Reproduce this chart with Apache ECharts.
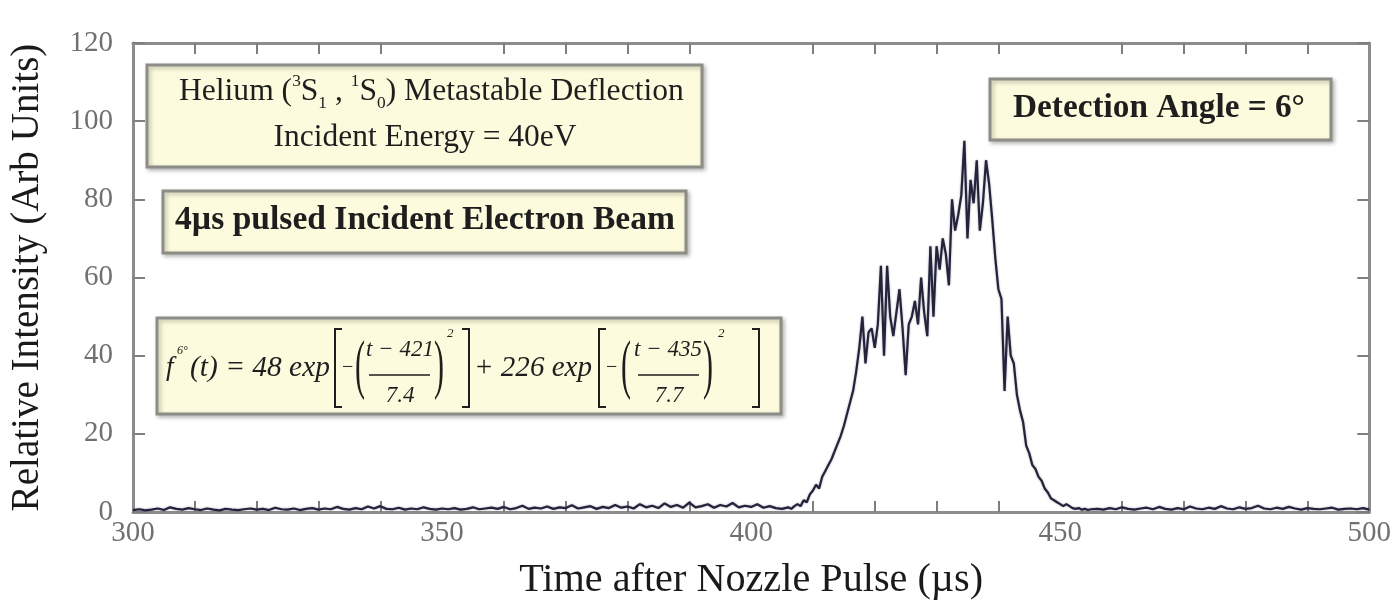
<!DOCTYPE html>
<html><head><meta charset="utf-8">
<script src="https://cdn.jsdelivr.net/npm/echarts@6/dist/echarts.min.js"></script>
<style>html,body{margin:0;padding:0;background:#fff}#c{width:1394px;height:605px}</style>
</head><body><div id="c"></div>
<script>
// ---- data ----
const baseTimes = [300,301,302,303,304,305,306,307,308,309,310,311,312,313,314,315,316,317,318,319,320,321,322,323,324,325,326,327,328,329,330,331,332,333,334,335,336,337,338,339,340,341,342,343,344,345,346,347,348,349,350,351,352,353,354,355,356,357,358,359,360,361,362,363,364,365,366,367,368,369,370,371,372,373,374,375,376,377,378,379,380,381,382,383,384,385,386,387,388,389,390,391,392,393,394,395,396,397,398,399,400,401,402,403,404];
const baseIntensity = [0.5,0.7,0.4,0.6,0.9,0.5,1.2,0.8,0.6,1.0,0.7,0.5,0.9,0.6,0.4,0.8,0.6,0.5,0.7,0.9,0.6,0.8,0.5,1.1,0.7,0.6,0.9,0.5,0.8,1.0,0.6,0.9,0.7,1.3,0.8,0.6,1.0,0.7,1.4,0.9,1.5,0.8,0.7,1.1,0.6,0.9,0.7,1.2,0.8,0.6,0.9,0.7,1.0,0.6,0.8,1.2,0.7,0.9,1.1,0.8,1.3,0.7,1.0,1.6,0.8,1.1,0.9,1.4,0.8,1.2,1.0,1.7,0.9,1.2,1.5,0.8,1.3,1.0,1.8,1.1,1.4,0.9,2.0,1.2,1.6,1.0,2.2,1.3,1.8,1.1,2.4,1.2,1.5,2.0,1.1,1.8,1.4,2.3,1.2,1.6,1.3,2.0,1.1,1.5,1.0];
const peakTimes = [405,405.5,406,406.5,407,407.5,408,408.5,409,409.5,410,410.5,411,411.5,412,412.5,413,413.5,414,414.5,415,415.5,416,416.5,417,417.5,418,418.5,419,419.5,420,420.5,421,421.5,422,422.5,423,423.5,424,424.5,425,425.5,426,426.5,427,427.5,428,428.5,429,429.5,430,430.5,431,431.5,432,432.5,433,433.5,434,434.5,435,435.5,436,436.5,437,437.5,438,438.5,439,439.5,440,440.5,441,441.5,442,442.5,443,443.5,444,444.5,445,445.5,446,446.5,447,447.5,448,448.5,449,449.5,450,450.5,451,451.5,452,452.5,453,453.5,454,454.5,455];
const peakIntensity = [0.8,1.0,1.2,0.8,1.5,2.0,1.5,3.0,2.5,4.5,5.5,7.0,6.0,9.0,10.5,12.0,13.5,15.5,17.5,19.5,22.0,25.0,28.0,31.0,36.0,42.0,50.0,38.0,46.0,47.0,42.0,48.0,63.0,40.0,63.0,50.0,45.0,51.0,57.0,47.0,35.0,48.0,50.0,54.0,48.0,60.0,51.0,45.0,68.0,50.0,68.0,62.0,70.0,66.0,58.0,80.0,72.0,76.0,81.0,95.0,70.0,85.0,79.0,90.0,72.0,79.0,90.0,84.0,75.0,65.0,57.0,54.5,31.0,50.0,40.0,38.0,30.0,26.0,23.0,17.0,15.0,12.0,11.0,9.0,8.0,6.0,5.0,3.5,3.0,2.5,2.0,1.5,2.0,1.5,1.0,0.8,1.0,0.6,0.8,0.5,0.7];
const tailTimes = [456,457,458,459,460,461,462,463,464,465,466,467,468,469,470,471,472,473,474,475,476,477,478,479,480,481,482,483,484,485,486,487,488,489,490,491,492,493,494,495,496,497,498,499,500];
const tailIntensity = [0.8,0.6,1.0,0.7,1.2,0.8,0.6,0.9,1.1,0.7,1.3,0.8,0.6,1.0,0.7,1.4,0.9,0.7,1.1,0.8,1.5,0.9,0.7,1.2,0.8,1.0,1.6,0.9,0.7,1.1,0.8,1.3,0.9,0.6,1.0,0.8,0.7,0.9,1.1,0.6,0.8,0.9,0.7,1.0,0.6];
const xTicks = [300,350,400,450,500];
const minorTickTimes = [300,310,320,330,340,350,360,370,380,390,400,410,420,430,440,450,460,470,480,490,500];
const yTicks = [0,20,40,60,80,100,120];
const xTitle = 'Time after Nozzle Pulse (\u00b5s)';
const yTitle = 'Relative Intensity (Arb Units)';
const box1Line1 = ['Helium (', '3', 'S', '1', ' , ', '1', 'S', '0', ') Metastable Deflection'];
const box1Line2 = 'Incident Energy = 40eV';
const box2Text = '4\u00b5s pulsed Incident Electron Beam';
const box3Text = 'Detection Angle = 6\u00b0';

// ---- build ----
const times = baseTimes.concat(peakTimes, tailTimes);
const intensity = baseIntensity.concat(peakIntensity, tailIntensity);
const seriesData = times.map((t, i) => [t, intensity[i]]);

const SERIF = '"Liberation Serif","Times New Roman",serif';
const mctx = document.createElement('canvas').getContext('2d');
function fontStr(size, weight, style) { return (style||'normal') + ' ' + (weight||'normal') + ' ' + size + 'px ' + SERIF; }
function measure(t, size, weight, style) { mctx.font = fontStr(size, weight, style); return mctx.measureText(t).width; }
function fitSize(t, target, weight, style) { return 30 * target / measure(t, 30, weight, style); }

const INK = '#1e1e1e';
const g = [];
function box(x1, y1, x2, y2) {
  g.push({type:'rect', shape:{x:x1, y:y1, width:x2-x1, height:y2-y1}, z:10,
    style:{fill:'#fcfbdd', stroke:'#8d8d88', lineWidth:3, shadowBlur:4, shadowColor:'rgba(0,0,0,0.25)', shadowOffsetX:2, shadowOffsetY:2}});
}
function txt(t, x, y, size, opt) {
  opt = opt || {};
  const el = {type:'text', z:11, x:x, y:y, style:{text:t, x:0, y:0, font:fontStr(size, opt.weight, opt.style), fill:opt.fill||INK,
    align:opt.align||'left', verticalAlign:opt.va||'middle', textAlign:opt.align||'left', textVerticalAlign:opt.va||'middle'}};
  if (opt.scaleY) el.scaleY = opt.scaleY;
  if (opt.scaleX) el.scaleX = opt.scaleX;
  g.push(el);
}
function line(pts, w) {
  g.push({type:'polyline', z:11, shape:{points:pts}, style:{stroke:INK, lineWidth:w||2, fill:null}});
}

// Box 1
box(147, 65, 702, 167);
(function(){
  const y = 92;
  const rel = [1, 0.55, 1, 0.55, 1, 0.55, 1, 0.55, 1];
  const dys = [0, -8, 0, 9, 0, -8, 0, 9, 0];
  let tot = 0;
  box1Line1.forEach((t, i) => { tot += measure(t, 30 * rel[i]); });
  const size = 30 * 505 / tot;
  let x = 179;
  box1Line1.forEach((t, i) => { const s = size * rel[i]; txt(t, x, y + dys[i] * size / 24, s); x += measure(t, s); });
  txt(box1Line2, 425, 138, fitSize(box1Line2, 303), {align:'center'});
})();
// Box 2
box(163, 191, 686, 253);
txt(box2Text, 425, 220, fitSize(box2Text, 500, 'bold'), {align:'center', weight:'bold'});
// Box 3
box(990, 79, 1331, 140);
txt(box3Text, 1159, 108, fitSize(box3Text, 292, 'bold'), {align:'center', weight:'bold'});
// Formula box
box(157, 318, 781, 414);
(function(){
  const fs = 23, ym = 368, yn = 350, yd = 396;
  txt('f', 166, ym, 27, {style:'italic'});
  txt('6\u00b0', 177, ym - 17, 12, {style:'italic'});
  txt('(t) = 48 exp', 190, ym, fitSize('(t) = 48 exp', 140, 'normal', 'italic'), {style:'italic'});
  // first bracket term
  line([[342,329],[335,329],[335,407],[342,407]], 2);
  txt('\u2212', 342, ym, 20);
  txt('(', 360, ym + 1, 30, {align:'center', scaleY:2.2});
  txt('t \u2212 421', 400, yn, fs, {style:'italic', align:'center'});
  line([[369,375],[430,375]], 1.5);
  txt('7.4', 400, yd, fs, {style:'italic', align:'center'});
  txt(')', 439, ym + 1, 30, {align:'center', scaleY:2.2});
  txt('2', 447, 334, 13, {style:'italic'});
  line([[462,329],[469,329],[469,407],[462,407]], 2);
  txt('+ 226 exp', 474, ym, fitSize('+ 226 exp', 118, 'normal', 'italic'), {style:'italic'});
  line([[606,329],[599,329],[599,407],[606,407]], 2);
  txt('\u2212', 606, ym, 20);
  txt('(', 626, ym + 1, 30, {align:'center', scaleY:2.2});
  txt('t \u2212 435', 668, yn, fs, {style:'italic', align:'center'});
  line([[638,375],[699,375]], 1.5);
  txt('7.7', 669, yd, fs, {style:'italic', align:'center'});
  txt(')', 708, ym + 1, 30, {align:'center', scaleY:2.2});
  txt('2', 718, 334, 13, {style:'italic'});
  line([[752,329],[759,329],[759,407],[752,407]], 2);
})();

const FRAME = '#8c8c8c';
const xNameSize = fitSize(xTitle, 464);
const yNameSize = fitSize(yTitle, 468);
const tickLabels = minorTickTimes.map(String);
const skipMajor = (idx, val) => Number(val) % 50 !== 0;
function tickAxis(pos) {
  return {
    type:'category', position:pos, data:tickLabels, boundaryGap:false,
    axisLine:{show:false, onZero:false},
    axisTick:{show:true, inside:true, length:11, interval:skipMajor, lineStyle:{color:'#7e7e7e', width:2}},
    axisLabel:{show:false}, splitLine:{show:false}
  };
}

const chart = echarts.init(document.getElementById('c'), null, {renderer:'canvas'});
chart.setOption({
  animation: false,
  backgroundColor: '#ffffff',
  grid: {left:122, right:17, top:43, bottom:91, containLabel:false},
  xAxis: [{
    type:'value', position:'bottom', min:xTicks[0], max:xTicks[xTicks.length-1], interval:xTicks[1]-xTicks[0],
    name: xTitle, nameLocation:'middle', nameGap:48,
    nameTextStyle:{fontFamily:SERIF, fontSize:xNameSize, color:'#1a1a1a'},
    axisLine:{show:true, onZero:false, lineStyle:{color:FRAME, width:3}},
    axisTick:{show:false},
    axisLabel:{fontFamily:SERIF, fontSize:29, color:'#707070', margin:7},
    splitLine:{show:false}
  },{
    type:'value', position:'top', min:xTicks[0], max:xTicks[xTicks.length-1], interval:xTicks[1]-xTicks[0],
    axisLine:{show:true, onZero:false, lineStyle:{color:FRAME, width:3}},
    axisTick:{show:false},
    axisLabel:{show:false}, splitLine:{show:false}
  }, tickAxis('bottom'), tickAxis('top')],
  yAxis: [{
    type:'value', position:'left', min:yTicks[0], max:yTicks[yTicks.length-1], interval:yTicks[1]-yTicks[0],
    name: yTitle, nameLocation:'middle', nameGap:86, nameRotate:90,
    nameTextStyle:{fontFamily:SERIF, fontSize:yNameSize, color:'#1a1a1a'},
    axisLine:{show:true, onZero:false, lineStyle:{color:FRAME, width:3}},
    axisTick:{show:true, inside:true, length:12, lineStyle:{color:'#808080', width:2}},
    axisLabel:{fontFamily:SERIF, fontSize:29, color:'#707070', margin:20},
    splitLine:{show:false}
  },{
    type:'value', position:'right', min:yTicks[0], max:yTicks[yTicks.length-1], interval:yTicks[1]-yTicks[0],
    axisLine:{show:true, onZero:false, lineStyle:{color:FRAME, width:3}},
    axisTick:{show:true, inside:true, length:12, lineStyle:{color:'#808080', width:2}},
    axisLabel:{show:false}, splitLine:{show:false}
  }],
  series: [{
    type:'line', xAxisIndex:0, yAxisIndex:0, data: seriesData, showSymbol:false, symbol:'none',
    lineStyle:{color:'#23233c', width:2.2, shadowBlur:2, shadowColor:'rgba(90,90,110,0.6)'}, z:5
  }],
  graphic: g
});
</script></body></html>
